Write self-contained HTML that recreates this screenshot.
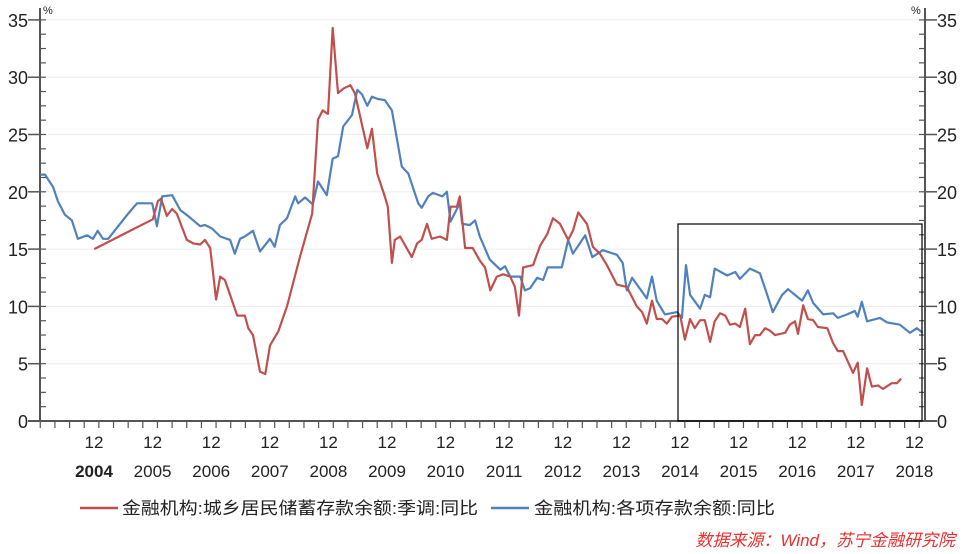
<!DOCTYPE html>
<html><head><meta charset="utf-8"><style>
html,body{margin:0;padding:0;background:#fff;}
svg{display:block;font-family:"Liberation Sans","Noto Sans CJK SC",sans-serif;}
</style></head><body>
<svg id="chart" width="965" height="554" viewBox="0 0 965 554">
<g id="grid"></g>
<g id="axes"></g>
<g id="series"></g>
<rect x="678" y="224" width="244" height="197" fill="none" stroke="#000" stroke-width="1.2"/>
<g>
<g>
<line x1="80" y1="508" x2="118" y2="508" stroke="#c0504d" stroke-width="2.5"/>
<text x="122" y="514" font-size="17" fill="#222" textLength="356" lengthAdjust="spacingAndGlyphs">金融机构:城乡居民储蓄存款余额:季调:同比</text>
</g>
<g>
<line x1="491" y1="508" x2="529" y2="508" stroke="#4f81bd" stroke-width="2.5"/>
<text x="534" y="514" font-size="17" fill="#222" textLength="241" lengthAdjust="spacingAndGlyphs">金融机构:各项存款余额:同比</text>
</g>
</g>
<text x="955" y="546" text-anchor="end" font-size="17" font-style="italic" fill="#e8312f">数据来源：Wind，苏宁金融研究院</text>
</svg>
<script>
const yTicks=[0,5,10,15,20,25,30,35];
const yearLabels=["2004","2005","2006","2007","2008","2009","2010","2011","2012","2013","2014","2015","2016","2017","2018"];
const blueDates=[2004.00,2004.08,2004.22,2004.30,2004.42,2004.54,2004.64,2004.80,2004.90,2004.98,2005.07,2005.16,2005.36,2005.50,2005.65,2005.91,2005.99,2006.08,2006.25,2006.39,2006.52,2006.73,2006.81,2006.93,2007.07,2007.24,2007.32,2007.41,2007.49,2007.63,2007.75,2007.92,2008.00,2008.09,2008.21,2008.35,2008.40,2008.52,2008.65,2008.74,2008.89,2008.99,2009.08,2009.17,2009.32,2009.41,2009.49,2009.58,2009.66,2009.76,2009.88,2010.00,2010.17,2010.28,2010.45,2010.51,2010.62,2010.70,2010.86,2010.94,2011.00,2011.16,2011.20,2011.33,2011.42,2011.50,2011.67,2011.85,2011.93,2012.02,2012.19,2012.27,2012.36,2012.48,2012.58,2012.66,2012.90,2013.01,2013.09,2013.30,2013.42,2013.60,2013.84,2013.94,2014.01,2014.10,2014.35,2014.44,2014.52,2014.66,2014.87,2014.95,2015.02,2015.09,2015.26,2015.34,2015.43,2015.51,2015.72,2015.86,2015.94,2016.11,2016.28,2016.40,2016.50,2016.66,2016.76,2016.88,2017.00,2017.10,2017.19,2017.36,2017.53,2017.61,2017.77,2017.90,2017.95,2018.02,2018.11,2018.33,2018.45,2018.67,2018.84,2018.96,2019.06];
const blueValues=[21.5,21.5,20.4,19.2,18.0,17.5,15.9,16.2,15.9,16.6,15.9,15.9,17.2,18.1,19.0,19.0,17.0,19.6,19.7,18.4,17.9,17.0,17.1,16.8,16.1,15.8,14.6,15.9,16.1,16.6,14.8,15.9,15.2,17.1,17.7,19.6,19.0,19.5,18.9,20.9,19.7,22.9,23.1,25.7,26.7,28.9,28.5,27.5,28.3,28.1,28.0,27.1,22.2,21.6,19.0,18.6,19.6,19.9,19.6,20.0,17.4,19.0,17.2,17.1,17.5,16.1,14.1,13.2,13.5,12.6,12.6,11.4,11.6,12.5,12.3,13.4,13.4,15.8,14.6,16.2,14.3,14.9,14.5,13.8,11.4,12.5,10.7,12.6,10.5,9.3,9.5,9.0,13.6,11.0,9.8,11.0,10.8,13.3,12.7,13.0,12.4,13.3,12.9,11.1,9.5,11.0,11.5,11.0,10.5,11.4,10.3,9.3,9.4,9.0,9.3,9.6,9.1,10.4,8.7,9.0,8.6,8.4,7.7,8.1,7.7];
const redDates=[2004.92,2005.92,2006.01,2006.06,2006.16,2006.25,2006.33,2006.50,2006.61,2006.73,2006.81,2006.90,2007.00,2007.07,2007.15,2007.24,2007.36,2007.49,2007.55,2007.63,2007.75,2007.84,2007.92,2008.06,2008.21,2008.43,2008.64,2008.74,2008.82,2008.91,2008.99,2009.08,2009.17,2009.29,2009.37,2009.58,2009.66,2009.75,2009.88,2009.93,2010.00,2010.05,2010.14,2010.34,2010.43,2010.51,2010.60,2010.68,2010.82,2010.94,2011.00,2011.11,2011.16,2011.25,2011.38,2011.50,2011.59,2011.68,2011.79,2011.90,2012.02,2012.10,2012.17,2012.24,2012.41,2012.53,2012.65,2012.75,2012.87,2013.01,2013.09,2013.18,2013.33,2013.43,2013.55,2013.67,2013.84,2014.01,2014.18,2014.27,2014.35,2014.44,2014.52,2014.61,2014.69,2014.78,2014.92,2015.00,2015.09,2015.17,2015.26,2015.34,2015.43,2015.51,2015.60,2015.69,2015.77,2015.86,2015.94,2016.03,2016.11,2016.20,2016.28,2016.37,2016.45,2016.54,2016.71,2016.79,2016.88,2016.93,2017.02,2017.10,2017.19,2017.27,2017.43,2017.53,2017.61,2017.70,2017.87,2017.95,2018.02,2018.11,2018.19,2018.30,2018.38,2018.53,2018.62,2018.69];
const redValues=[15.0,17.6,19.2,19.4,17.9,18.5,18.1,15.8,15.5,15.4,15.8,15.1,10.6,12.6,12.3,11.0,9.2,9.2,8.1,7.5,4.3,4.1,6.6,7.8,10.0,14.3,18.1,26.3,27.1,26.8,34.3,28.6,29.0,29.3,28.6,23.8,25.5,21.6,19.6,18.7,13.8,15.8,16.1,14.3,15.5,15.8,17.2,15.9,16.1,15.8,18.7,18.7,19.6,15.1,15.1,14.0,13.4,11.4,12.6,12.8,12.6,11.7,9.2,13.4,13.6,15.3,16.3,17.7,17.2,15.8,16.6,18.2,17.2,15.2,14.6,13.6,11.9,11.7,10.0,9.5,8.5,10.5,8.9,8.9,8.5,9.1,9.2,7.1,8.9,8.1,8.8,8.8,6.9,8.7,9.4,9.2,8.4,8.5,8.2,9.8,6.7,7.5,7.5,8.1,7.9,7.5,7.7,8.4,8.7,7.6,10.1,8.9,8.8,8.2,8.1,6.8,6.1,6.1,4.2,5.1,1.4,4.6,3.0,3.1,2.8,3.3,3.3,3.7];

const NS="http://www.w3.org/2000/svg";
const X0=40,X1=925,Y0=421;
function xScale(t){return 94+(t-2004.917)*58.6;}
function yScale(v){return Y0-v*11.46;}
function mk(tag,attrs,parent){const e=document.createElementNS(NS,tag);for(const k in attrs)e.setAttribute(k,attrs[k]);parent.appendChild(e);return e;}
const grid=document.getElementById('grid'),axes=document.getElementById('axes'),series=document.getElementById('series');
yTicks.forEach(v=>{
  if(v>0){const g=mk('line',{x1:X0,x2:X1,y1:yScale(v),y2:yScale(v),stroke:'#ececec','stroke-width':1},grid);
  
  }
  const l=mk('text',{x:X0-12,y:yScale(v)+7,'text-anchor':'end','font-size':18,fill:'#222'},axes);l.textContent=v;
  
  
  const r=mk('text',{x:X1+12,y:yScale(v)+7,'font-size':18,fill:'#222'},axes);r.textContent=v;
  
  
  mk('line',{x1:X0-12,x2:X0,y1:yScale(v),y2:yScale(v),stroke:'#555','stroke-width':1.5},axes);
  mk('line',{x1:X1,x2:X1+12,y1:yScale(v),y2:yScale(v),stroke:'#555','stroke-width':1.5},axes);
});
for(let v=0;v<=35;v+=1.25){[ [X0,X0+6],[X1-6,X1] ].forEach(p=>mk('line',{x1:p[0],x2:p[1],y1:yScale(v),y2:yScale(v),stroke:'#555','stroke-width':1.2},axes));}
mk('line',{x1:X0,x2:X0,y1:8,y2:Y0,stroke:'#555','stroke-width':2},axes);
mk('line',{x1:X1,x2:X1,y1:8,y2:Y0,stroke:'#555','stroke-width':2},axes);
mk('line',{x1:X0-12,x2:X1+12,y1:Y0,y2:Y0,stroke:'#555','stroke-width':2},axes);
let p1=mk('text',{x:X0+3,y:14,'font-size':11,fill:'#222'},axes);p1.textContent='%';


let p2=mk('text',{x:X1-14,y:14,'font-size':11,fill:'#222'},axes);p2.textContent='%';


for(let t=2004.0;t<2019.2;t+=0.25){const x=xScale(t);if(x<X0||x>X1)continue;const major=Math.abs(((t-2004.917)%1+1)%1)<0.01||Math.abs(((t-2004.917)%1+1)%1-1)<0.01;
  mk('line',{x1:x,x2:x,y1:Y0,y2:Y0+(major?12:7),stroke:'#555','stroke-width':1.2},axes);}
yearLabels.forEach((y,i)=>{const x=xScale(2004.917+i);
  const a=mk('text',{x:x,y:448,'text-anchor':'middle','font-size':17,fill:'#222'},axes);a.textContent='12';
  
  
  const b=mk('text',{x:x,y:477,'text-anchor':'middle','font-size':17,fill:'#222','font-weight':i===0?'bold':'normal'},axes);b.textContent=y;
  
  
});
function line(d,v,c,name){const pts=d.map((t,i)=>xScale(t).toFixed(1)+','+yScale(v[i]).toFixed(1)).join(' ');
  const p=mk('polyline',{points:pts,fill:'none',stroke:c,'stroke-width':2.2,'stroke-linejoin':'round'},series);
  
  }
line(blueDates,blueValues,'#4f81bd','total-deposits-line');
line(redDates,redValues,'#c0504d','household-savings-line');
</script>
</body></html>
